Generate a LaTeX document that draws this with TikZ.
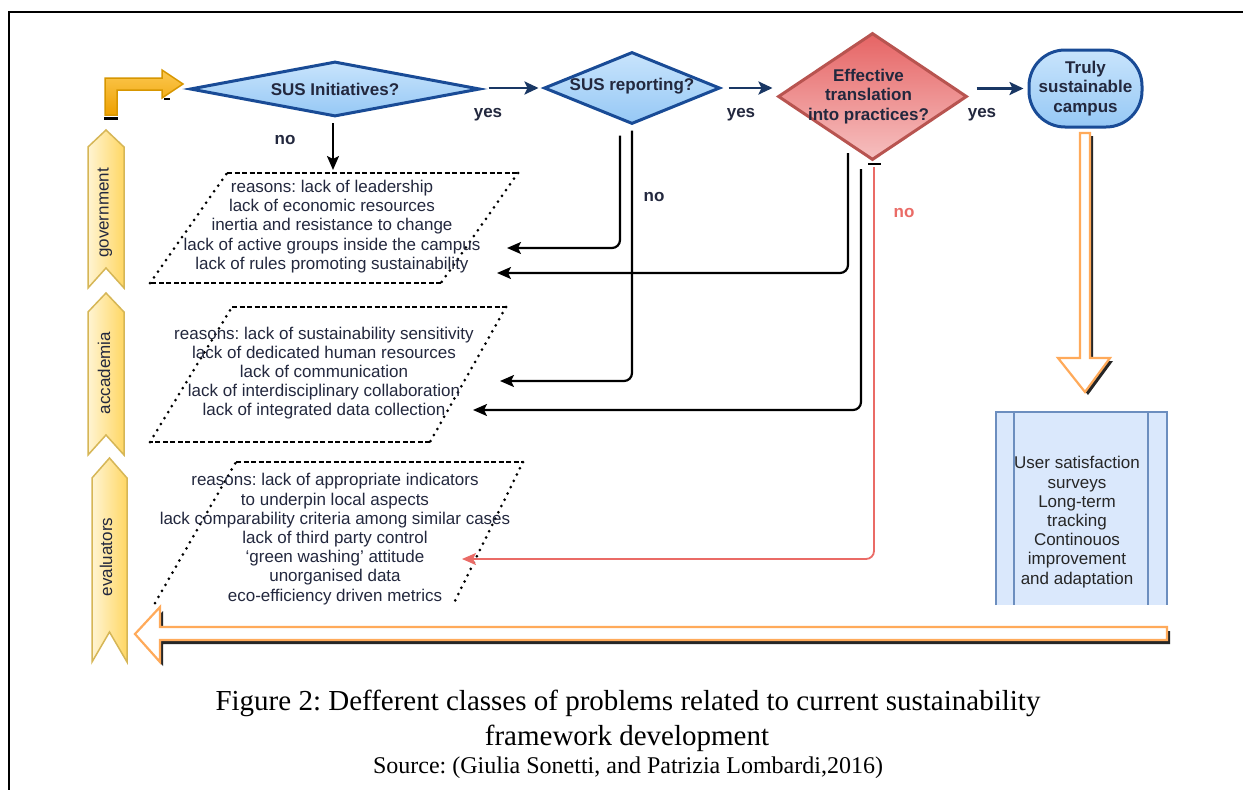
\documentclass[tikz,border=0pt]{standalone}
\usepackage{fontspec}
\setmainfont{Liberation Sans}
\newfontfamily\capfont{Liberation Serif}
\usetikzlibrary{shapes.geometric,arrows.meta,calc}
\definecolor{txt}{RGB}{35,40,62}
\definecolor{bluebd}{RGB}{25,75,150}
\definecolor{bluetop}{RGB}{200,228,252}
\definecolor{bluebot}{RGB}{150,200,245}
\definecolor{redtop}{RGB}{230,100,100}
\definecolor{redbot}{RGB}{246,192,192}
\definecolor{redbd}{RGB}{184,84,80}
\definecolor{redline}{RGB}{234,107,102}
\definecolor{navy}{RGB}{25,55,100}
\definecolor{ylight}{RGB}{255,244,210}
\definecolor{ydark}{RGB}{255,215,100}
\definecolor{ybd}{RGB}{214,182,86}
\definecolor{otop}{RGB}{252,200,80}
\definecolor{obot}{RGB}{238,160,0}
\definecolor{obd}{RGB}{215,150,0}
\definecolor{ohollow}{RGB}{255,170,90}
\definecolor{boxfill}{RGB}{218,232,252}
\definecolor{boxbd}{RGB}{108,142,191}
\frenchspacing
\begin{document}
\begin{tikzpicture}[x=1pt,y=-1pt,
  every node/.style={font=\fontsize{17}{19.2}\selectfont, text=txt, inner sep=0pt},
  bfont/.style={font=\bfseries\fontsize{17}{19.2}\selectfont},
  bluediam/.style={diamond, draw=bluebd, line width=3pt, top color=bluetop, bottom color=bluebot},
  chevron/.style={draw=ybd, line width=1.5pt, left color=ylight, right color=ydark},
  dashh/.style={line width=2.5pt, dash pattern=on 5pt off 2.5pt},
  dotsl/.style={line width=3pt, line cap=round, dash pattern=on 0pt off 7pt},
  conn/.style={draw=black, line width=2.2pt, rounded corners=8pt, -{Stealth[length=14pt,width=12pt,inset=3pt]}},
  connred/.style={draw=redline, line width=1.8pt, rounded corners=8pt, -{Stealth[length=14pt,width=12pt,inset=3pt]}},
  yesarr/.style={draw=navy, line width=2.5pt, -{Stealth[length=14pt,width=13pt,inset=3pt]}},
  lbl/.style={bfont},
  hollow/.style={draw=ohollow, line width=2.2pt, fill=white},
  shadowp/.style={fill=black!85}
]
\path[use as bounding box] (0,0) rectangle (1243,790);
\fill[white] (0,0) rectangle (1243,790);
\draw[line width=2.5pt] (9,790) -- (9,12) -- (1243,12);

% chevrons
\draw[chevron] (88,147) -- (106,130) -- (124,147) -- (124,288) -- (106,268) -- (88,288) -- cycle;
\draw[chevron] (88,312) -- (106,293) -- (124,312) -- (124,455) -- (106,435) -- (88,455) -- cycle;
\draw[chevron] (92,478) -- (109.5,458) -- (127,478) -- (127,662) -- (109.5,632) -- (92,662) -- cycle;
\node[rotate=90] (lgov) at (105,213) {government};
\node[rotate=90] (lacad) at (104,373) {accademia};
\node[rotate=90] (leval) at (106,557) {evaluators};

% orange L arrow
\draw[obd, line width=1.5pt, top color=otop, bottom color=obot]
  (105,115) -- (105,78) -- (162,78) -- (162,70) -- (183,84) -- (162,98) -- (162,90) -- (117,90) -- (117,115) -- cycle;
\draw[line width=3pt] (104,118) -- (118,118);
\draw[line width=2.5pt] (164,99) -- (170,99);

% decision shapes
\node[bluediam, minimum width=290pt, minimum height=55pt, label={[bfont]center:SUS Initiatives?}] (d1) at (335,89) {};
\node[bluediam, minimum width=176pt, minimum height=72pt, label={[bfont,yshift=2pt]center:SUS reporting?}] (d2) at (632,88) {};
\node[diamond, draw=redbd, line width=3pt, top color=redtop, bottom color=redbot, minimum width=189pt, minimum height=127pt,
  label={[bfont,align=center,xshift=-4pt]center:{Effective\\translation\\into practices?}}] (d3) at (872.5,96.5) {};
\node[draw=bluebd, line width=3pt, rounded corners=36pt, top color=bluetop, bottom color=bluebot,
  minimum width=113pt, minimum height=77pt, align=center, bfont] (camp) at (1085.5,88.5) {Truly\\sustainable\\campus};

% yes arrows
\draw[yesarr] ($(d1.east)+(7,-1)$) -- ($(d2.west)+(-4,0)$);
\draw[yesarr] ($(d2.east)+(7,0)$) -- ($(d2.east -| d3.west)+(-4,0)$);
\draw[yesarr] ($(d3.east |- camp.west)+(8,0)$) -- ($(camp.west)+(-4,0)$);
\node[lbl] (y1) at (488,115) {yes};
\node[lbl] (y2) at (741,115) {yes};
\node[lbl] (y3) at (982,115) {yes};
\node[lbl] (n1) at (285,140) {no};
\node[lbl] (n2) at (654,197) {no};
\node[lbl, text=redline] (n3) at (904,213) {no};

% reason parallelograms
\draw[dashh] (227,173) -- (518,173);
\draw[dashh] (441,283) -- (150,283);
\draw[dotsl] (518,173) -- (441,283);
\draw[dotsl] (150,283) -- (227,173);
\draw[dashh] (232,307) -- (506,307);
\draw[dashh] (430,442) -- (150,442);
\draw[dotsl] (506,307) -- (430,442);
\draw[dotsl] (150,442) -- (232,307);
\draw[dashh] (236,462) -- (523,462);
\draw[dotsl] (523,462) -- (454,603);
\draw[dotsl] (155,603) -- (236,462);

\node[align=center] (gov) at (332,226.5) {reasons: lack of leadership\\lack of economic resources\\inertia and resistance to change\\lack of active groups inside the campus\\lack of rules promoting sustainability};
\node[align=center] (acad) at (324,373) {reasons: lack of sustainability sensitivity\\lack of dedicated human resources\\lack of communication\\lack of interdisciplinary collaboration\\lack of integrated data collection};
\node[align=center] (eval) at (335,539) {reasons: lack of appropriate indicators\\to underpin local aspects\\lack comparability criteria among similar cases\\lack of third party control\\`green washing' attitude\\unorganised data\\eco-efficiency driven metrics};

% "no" connectors
\coordinate (a1) at (333,170);
\coordinate (aA) at (507,248);
\coordinate (aB) at (500,381);
\coordinate (aC) at (497,273);
\coordinate (aD) at (473,410);
\coordinate (aE) at (462,559);
\draw[conn] ($(d1.south)+(-2,5)$) -- (a1);
\draw[conn] ($(d2.south)+(-12,10)$) |- (aA);
\draw[conn] ($(d2.south)+(0,5)$) |- (aB);
\draw[conn] ($(d3.south)+(-24.5,-8.5)$) |- (aC);
\draw[conn] ($(d3.south)+(-11.5,7.5)$) |- (aD);
\draw[connred] ($(d3.south)+(1.5,5.5)$) |- (aE);
\draw[line width=2.5pt] (868,164) -- (881,164);

% hollow down arrow
\fill[shadowp] (1083,136) -- (1093,136) -- (1093,361) -- (1113,361) -- (1088,395) -- (1061,361) -- (1083,361) -- cycle;
\draw[hollow] (1080,133) -- (1090,133) -- (1090,358) -- (1110,358) -- (1085,392) -- (1058,358) -- (1080,358) -- cycle;

% monitoring box
\node[fill=boxfill, minimum width=171pt, minimum height=193pt,
  label={[align=center, xshift=-4.5pt, yshift=-13.5pt, text=black!85]center:User satisfaction\\surveys\\Long-term\\tracking\\Continouos\\improvement\\and adaptation}] (box) at (1081.5,508.5) {};
\draw[boxbd, line width=2pt] (box.south west) -- (box.north west) -- (box.north east) -- (box.south east);
\draw[boxbd, line width=2pt] ($(box.north west)+(18,0)$) -- ($(box.south west)+(18,0)$);
\draw[boxbd, line width=2pt] ($(box.north east)+(-19,0)$) -- ($(box.south east)+(-19,0)$);

% hollow return arrow
\fill[shadowp] (1170,631) -- (163,631) -- (163,611) -- (138,638) -- (163,666) -- (163,644) -- (1170,644) -- cycle;
\draw[hollow] (1167,627) -- (160,627) -- (160,607) -- (135,634) -- (160,662) -- (160,640) -- (1167,640) -- cycle;

% caption
\node[font=\capfont\fontsize{29}{35}\selectfont, text=black, anchor=base] (cap1) at (628,710) {Figure 2: Defferent classes of problems related to current sustainability};
\node[font=\capfont\fontsize{29}{35}\selectfont, text=black, anchor=base] (cap2) at (627,745) {framework development};
\node[font=\capfont\fontsize{24}{28}\selectfont, text=black, anchor=base] (src) at (628,773) {Source: (Giulia Sonetti, and Patrizia Lombardi,2016)};
\end{tikzpicture}
\end{document}
